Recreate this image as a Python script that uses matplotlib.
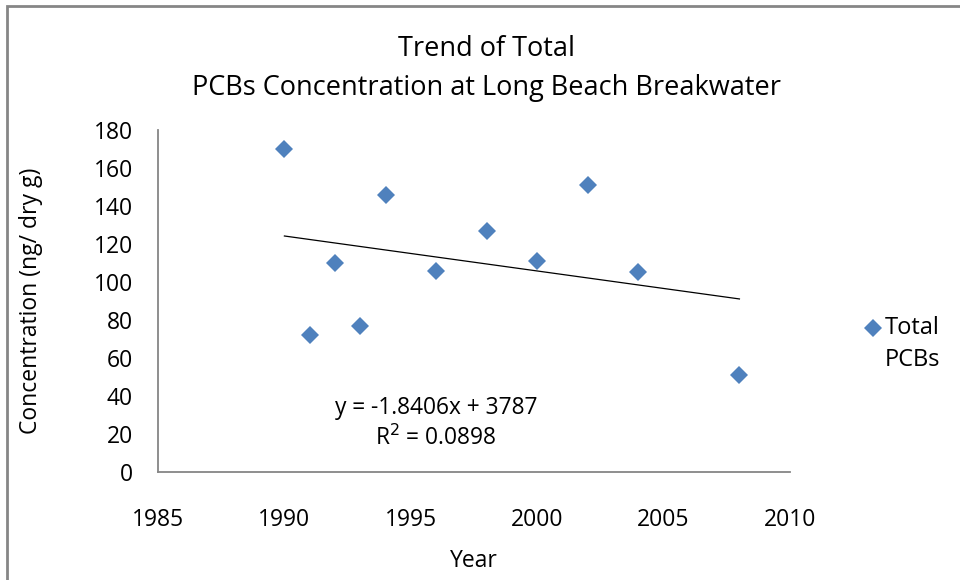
import matplotlib
matplotlib.use("Agg")
import matplotlib.pyplot as plt
from matplotlib.patches import Rectangle
import numpy as np

years = [1990, 1991, 1992, 1993, 1994, 1996, 1998, 2000, 2002, 2004, 2008]
pcbs = [170, 72, 110, 77, 146, 106, 127, 111, 151, 105, 51]
slope, intercept = -1.8406, 3787
r2 = 0.0898

BLUE = "#4F81BD"
GRAY = "#868686"
plt.rcParams["font.family"] = ["Open Sans", "DejaVu Sans"]
FS = 16.5

fig = plt.figure(figsize=(9.6, 5.8), dpi=100)
ax = fig.add_axes([0.1646, 0.1862, 0.6583, 0.5897])

ax.plot(years, pcbs, linestyle="none", marker="D", markersize=9.5,
        color=BLUE, markeredgewidth=0, zorder=3)
tx = np.array([min(years), max(years)])
ax.plot(tx, slope * tx + intercept, color="black", linewidth=0.9)

ax.set_xlim(1985, 2010)
ax.set_ylim(0, 180)
ax.set_xticks(range(1985, 2011, 5))
ax.set_yticks(range(0, 181, 20))
ax.tick_params(length=0, labelsize=FS)
ax.tick_params(axis="y", pad=18)
ax.tick_params(axis="x", pad=26)
for s in ["top", "right"]:
    ax.spines[s].set_visible(False)
for s in ["left", "bottom"]:
    ax.spines[s].set_color(GRAY)
    ax.spines[s].set_linewidth(1.3)

ax.text(1996, 33.7, f"y = {slope}x + {intercept}", ha="center", va="center", fontsize=16.4)
ax.text(1996, 17.5, f"R$^2$ = {r2}", ha="center", va="center", fontsize=16.4)

ax.set_xlabel("Year", fontsize=FS)
ax.set_ylabel("Concentration (ng/ dry g)", fontsize=FS)
ax.yaxis.set_label_coords(-0.182, 0.5)
ax.xaxis.set_label_coords(0.5, -0.225)

fig.text(0.507, 0.916, "Trend of Total", ha="center", va="center", fontsize=19.5)
fig.text(0.507, 0.849, "PCBs Concentration at Long Beach Breakwater",
         ha="center", va="center", fontsize=19.5)

# legend entry
fig.lines.append(plt.Line2D([0.909], [1 - 328 / 580], marker="D", markersize=9.5,
                            color=BLUE, markeredgewidth=0, transform=fig.transFigure))
fig.text(0.922, 1 - 328 / 580, "Total", ha="left", va="center", fontsize=17)
fig.text(0.922, 1 - 360 / 580, "PCBs", ha="left", va="center", fontsize=17)

# outer chart border
fig.patches.append(Rectangle((7 / 960, -0.1), 1.2, 1 - 6 / 580 + 0.1, fill=False,
                             edgecolor=GRAY, linewidth=2, transform=fig.transFigure))

fig.savefig("out.png", dpi=100, facecolor="white")
